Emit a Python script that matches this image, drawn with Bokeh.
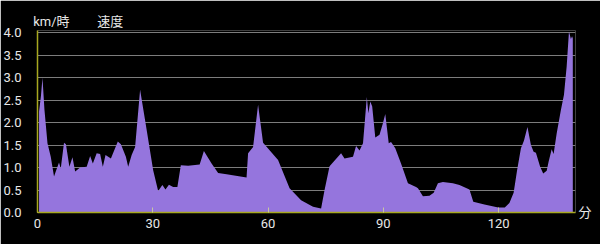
from bokeh.plotting import figure
from bokeh.models import Range1d, FixedTicker, LinearAxis
from bokeh.embed import file_html
from bokeh.resources import INLINE

minutes = [0.4, 0.9, 1.3, 1.8, 2.6, 3.45, 4.3, 4.75, 5.6, 6.05, 6.9, 7.4, 8.3, 9.1, 9.8,
           11.1, 12.8, 13.7, 14.4, 15.4, 16.3, 17.0, 17.7, 19.1, 20.9, 21.7, 23.0, 23.6,
           24.5, 25.4, 26.7, 28.4, 30.1, 31.4, 32.5, 33.3, 34.2, 35.3, 36.4, 37.3, 39.2,
           42.2, 43.3, 45.3, 47.0, 49.2, 54.4, 54.8, 56.1, 57.4, 58.7, 62.6, 65.6, 68.6,
           71.7, 73.8, 74.7, 76.0, 79.0, 79.9, 82.1, 82.9, 83.8, 84.7, 85.7, 86.1, 86.6,
           87.1, 87.9, 89.0, 89.9, 90.5, 91.4, 92.0, 93.1, 94.6, 96.4, 98.5, 99.0, 100.3,
           102.0, 103.1, 104.2, 105.5, 108.1, 109.8, 112.4, 113.4, 116.3, 119.9, 121.6,
           122.8, 123.9, 124.8, 125.8, 126.6, 127.5, 128.4, 129.1, 129.7, 130.8, 131.6,
           132.5, 133.0, 133.8, 134.3, 135.1, 136.2, 137.0, 137.7, 138.3, 138.8, 139.1, 139.3]
speed = [2.25, 2.6, 3.0, 2.3, 1.54, 1.24, 0.80, 0.91, 1.11, 0.98, 1.55, 1.52, 1.02, 1.23, 0.91,
         1.00, 1.02, 1.26, 1.09, 1.32, 1.30, 1.02, 1.28, 1.20, 1.58, 1.52, 1.24, 1.02,
         1.28, 1.46, 2.73, 1.84, 0.94, 0.48, 0.61, 0.51, 0.62, 0.57, 0.57, 1.05, 1.04,
         1.07, 1.37, 1.09, 0.88, 0.85, 0.78, 1.32, 1.46, 2.40, 1.55, 1.17, 0.54, 0.27,
         0.13, 0.09, 0.50, 1.03, 1.32, 1.20, 1.24, 1.48, 1.38, 1.54, 2.57, 2.21, 2.47,
         2.36, 1.67, 1.73, 1.99, 2.19, 1.54, 1.57, 1.43, 1.09, 0.65, 0.57, 0.54, 0.36,
         0.37, 0.44, 0.65, 0.68, 0.65, 0.61, 0.51, 0.24, 0.18, 0.11, 0.11,
         0.21, 0.44, 0.94, 1.43, 1.60, 1.90, 1.50, 1.35, 1.33, 1.02, 0.87,
         0.93, 1.13, 1.41, 1.30, 1.76, 2.28, 2.62, 3.25, 4.03, 3.86, 3.92, 3.88]

x_ticks = [0, 30, 60, 90, 120]
y_ticks = [0.0, 0.5, 1.0, 1.5, 2.0, 2.5, 3.0, 3.5, 4.0]
y_tick_labels = ["0.0", "0.5", "1.0", "1.5", "2.0", "2.5", "3.0", "3.5", "4.0"]
top_label_pos = [3.6, 18.9]
top_labels = ["km/時", "速度"]
x_unit = "分"

FONT = "Roboto, 'Noto Sans CJK JP'"
TXT = "#e8e8e8"

p = figure(width=600, height=244, output_backend="svg", toolbar_location=None,
           x_range=Range1d(0, 140), y_range=Range1d(0, 4.05),
           background_fill_color="black", border_fill_color="black",
           outline_line_color=None,
           min_border_left=36, min_border_right=25, min_border_top=30, min_border_bottom=32)

p.varea(x=minutes, y1=[0] * len(minutes), y2=speed, fill_color="#9575DD", fill_alpha=1.0)

p.xgrid.grid_line_color = None
p.ygrid.grid_line_color = "#7c7c7c"
p.ygrid.grid_line_width = 1
p.ygrid.ticker = FixedTicker(ticks=y_ticks)

p.xaxis.ticker = FixedTicker(ticks=x_ticks)
p.xaxis.axis_line_color = "#a8a820"
p.xaxis.axis_line_width = 1.5
p.xaxis.major_tick_in = 5
p.xaxis.major_tick_out = 0
p.xaxis.major_tick_line_color = "#c8c8a0"
p.xaxis.minor_tick_line_color = None
p.xaxis.major_label_text_color = TXT
p.xaxis.major_label_text_font_size = "13px"
p.xaxis.major_label_text_font = FONT
p.xaxis.major_label_standoff = 6

p.yaxis.ticker = FixedTicker(ticks=y_ticks)
p.yaxis.major_label_overrides = {t: l for t, l in zip(y_ticks, y_tick_labels)}
p.yaxis.axis_line_color = "#a8a820"
p.yaxis.axis_line_width = 1.5
p.yaxis.major_tick_line_color = None
p.yaxis.minor_tick_line_color = None
p.yaxis.major_tick_in = 0
p.yaxis.major_tick_out = 0
p.yaxis.major_label_text_color = TXT
p.yaxis.major_label_text_font_size = "13px"
p.yaxis.major_label_text_font = FONT
p.yaxis.major_label_standoff = 16

def text_axis(ticks, labels, standoff):
    ax = LinearAxis(ticker=FixedTicker(ticks=ticks),
                    major_label_overrides={t: l for t, l in zip(ticks, labels)})
    ax.axis_line_color = None
    ax.major_tick_line_color = None
    ax.minor_tick_line_color = None
    ax.major_tick_in = 0
    ax.major_tick_out = 0
    ax.major_label_text_color = TXT
    ax.major_label_text_font_size = "13px"
    ax.major_label_text_font = FONT
    ax.major_label_standoff = standoff
    return ax

p.add_layout(text_axis(top_label_pos, top_labels, 2), "above")
p.add_layout(text_axis([0.0], [x_unit], 3), "right")

open("out.html", "w").write(file_html(p, INLINE))
